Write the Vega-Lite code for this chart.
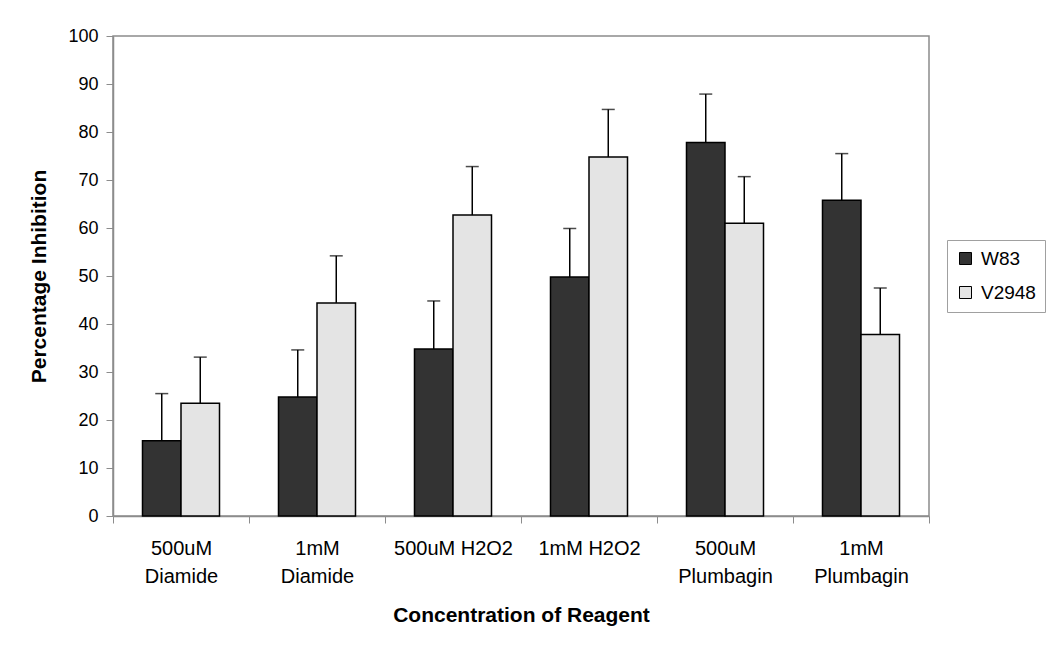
{
  "$schema": "https://vega.github.io/schema/vega-lite/v6.json",
  "width": 816,
  "height": 480,
  "autosize": "none",
  "padding": {"left": 113, "top": 36, "right": 121, "bottom": 138},
  "background": "white",
  "config": {
    "view": {"stroke": "#8c8c8c", "strokeWidth": 1.5},
    "font": "Liberation Sans"
  },
  "data": {
    "values": [
      {"reagent": "500uM Diamide", "strain": "W83", "value": 15.7, "upper": 25.5},
      {"reagent": "500uM Diamide", "strain": "V2948", "value": 23.5, "upper": 33.1},
      {"reagent": "1mM Diamide", "strain": "W83", "value": 24.8, "upper": 34.6},
      {"reagent": "1mM Diamide", "strain": "V2948", "value": 44.4, "upper": 54.2},
      {"reagent": "500uM H2O2", "strain": "W83", "value": 34.8, "upper": 44.8},
      {"reagent": "500uM H2O2", "strain": "V2948", "value": 62.7, "upper": 72.8},
      {"reagent": "1mM H2O2", "strain": "W83", "value": 49.8, "upper": 59.9},
      {"reagent": "1mM H2O2", "strain": "V2948", "value": 74.8, "upper": 84.7},
      {"reagent": "500uM Plumbagin", "strain": "W83", "value": 77.8, "upper": 87.9},
      {"reagent": "500uM Plumbagin", "strain": "V2948", "value": 61.0, "upper": 70.7},
      {"reagent": "1mM Plumbagin", "strain": "W83", "value": 65.8, "upper": 75.5},
      {"reagent": "1mM Plumbagin", "strain": "V2948", "value": 37.8, "upper": 47.5}
    ]
  },
  "encoding": {
    "x": {
      "field": "reagent",
      "type": "nominal",
      "sort": ["500uM Diamide", "1mM Diamide", "500uM H2O2", "1mM H2O2", "500uM Plumbagin", "1mM Plumbagin"],
      "scale": {"paddingInner": 0, "paddingOuter": 0},
      "axis": {
        "title": "Concentration of Reagent",
        "titleFontSize": 21,
        "titleFontWeight": "bold",
        "titleColor": "black",
        "titlePadding": 18,
        "labelAngle": 0,
        "labelFontSize": 20,
        "labelColor": "black",
        "labelLineHeight": 28,
        "labelPadding": 15,
        "labelExpr": "indexof(datum.label, 'H2O2') >= 0 ? datum.label : split(datum.label, ' ')",
        "tickBand": "extent",
        "tickSize": 7,
        "tickColor": "#8c8c8c",
        "domainColor": "#8c8c8c",
        "domainWidth": 1.5
      }
    },
    "xOffset": {
      "field": "strain",
      "type": "nominal",
      "sort": ["W83", "V2948"],
      "scale": {"paddingInner": 0, "paddingOuter": 0.766}
    }
  },
  "layer": [
    {
      "mark": {"type": "bar", "stroke": "black", "strokeWidth": 1.5},
      "encoding": {
        "y": {
          "field": "value",
          "type": "quantitative",
          "scale": {"domain": [0, 100]},
          "axis": {
            "title": "Percentage Inhibition",
            "titleFontSize": 21,
            "titleFontWeight": "bold",
            "titleColor": "black",
            "titlePadding": 18,
            "values": [0, 10, 20, 30, 40, 50, 60, 70, 80, 90, 100],
            "labelFontSize": 18,
            "labelColor": "black",
            "labelPadding": 8,
            "tickSize": 7,
            "tickColor": "#8c8c8c",
            "domainColor": "#8c8c8c",
            "domainWidth": 1.5,
            "grid": false
          }
        },
        "fill": {
          "field": "strain",
          "type": "nominal",
          "sort": ["W83", "V2948"],
          "scale": {"domain": ["W83", "V2948"], "range": ["#333333", "#e4e4e4"]},
          "legend": {
            "title": null,
            "orient": "none",
            "legendX": 834,
            "legendY": 204,
            "padding": 9,
            "strokeColor": "#a0a0a0",
            "fillColor": "white",
            "symbolType": "square",
            "symbolSize": 144,
            "symbolStrokeColor": "black",
            "symbolStrokeWidth": 1,
            "labelFontSize": 19,
            "labelColor": "black",
            "rowPadding": 14,
            "labelOffset": 6
          }
        }
      }
    },
    {
      "mark": {"type": "rule", "color": "black", "strokeWidth": 1.5},
      "encoding": {
        "y": {"field": "value", "type": "quantitative"},
        "y2": {"field": "upper"}
      }
    },
    {
      "mark": {"type": "tick", "color": "black", "size": 13, "thickness": 1.5},
      "encoding": {
        "y": {"field": "upper", "type": "quantitative"}
      }
    }
  ]
}
